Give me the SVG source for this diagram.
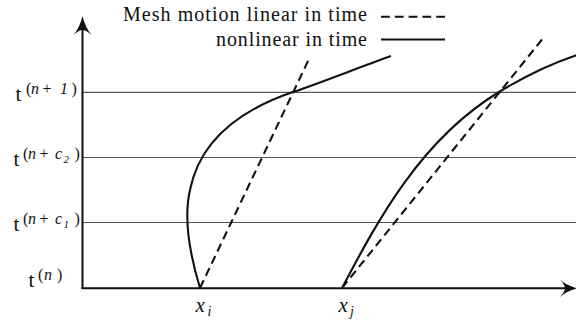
<svg xmlns="http://www.w3.org/2000/svg" width="576" height="324" viewBox="0 0 576 324">
<rect width="576" height="324" fill="#fff"/>
<g id="grid" stroke="#555" stroke-width="1.2" fill="none">
<line x1="83" y1="92.3" x2="576" y2="92.3"/>
<line x1="83" y1="157.5" x2="576" y2="157.5"/>
<line x1="83" y1="222.5" x2="576" y2="222.5"/>
</g>
<g id="axes">
<g stroke="#111" stroke-width="2" fill="none">
<line x1="82.5" y1="289" x2="82.5" y2="30"/>
<line x1="81.5" y1="288.3" x2="566" y2="288.3"/>
</g>
<g fill="#111">
<path d="M82.5,16 Q85,27 91.5,35 Q86,30 82.5,30 Q79,30 73.5,35 Q80,27 82.5,16 Z"/>
<path d="M577.5,288.3 Q566,291 560,297 Q565,291.5 565,288.3 Q565,285 560,279.6 Q566,285.6 577.5,288.3 Z"/>
</g>
</g>
<g id="connectors" stroke="#111" stroke-width="2.1" fill="none">
<g stroke-dasharray="8.5,5">
<line x1="200" y1="288" x2="309" y2="59"/>
<line x1="342" y1="288" x2="544" y2="37"/>
</g>
<path d="M200,288 C190,255 183,220 190,190 C200,140 240,110 293,92 C320,83 360,67 391,56"/>
<path d="M342,288 C377,222 420,140 499,92 C530,73 555,62 580,54"/>
</g>
<g id="legend">
<text font-family="Liberation Serif" font-size="20" fill="#111" x="367" y="21" text-anchor="end" textLength="244" lengthAdjust="spacing">Mesh motion linear in time</text>
<line x1="381" y1="16.7" x2="445" y2="16.7" stroke="#111" stroke-width="2.1" stroke-dasharray="8.8,5"/>
<text font-family="Liberation Serif" font-size="20" fill="#111" x="367" y="45.5" text-anchor="end" textLength="151" lengthAdjust="spacing">nonlinear in time</text>
<line x1="381" y1="39.5" x2="445" y2="39.5" stroke="#111" stroke-width="2.1"/>
</g>
<g id="label-tn1">
<text font-family="Liberation Serif" font-size="21" fill="#111" x="15.5" y="100.5">t</text>
<text font-family="Liberation Serif" font-size="16" fill="#111" y="94"><tspan x="26">(</tspan><tspan x="31" font-style="italic">n</tspan><tspan x="42.5">+</tspan><tspan x="60" font-style="italic">1</tspan><tspan x="71.5">)</tspan></text>
</g>
<g id="label-tnc2">
<text font-family="Liberation Serif" font-size="21" fill="#111" x="13.5" y="165.5">t</text>
<text font-family="Liberation Serif" font-size="16" fill="#111" y="159"><tspan x="23">(</tspan><tspan x="28" font-style="italic">n</tspan><tspan x="39.5">+</tspan><tspan x="55" font-style="italic">c</tspan><tspan x="74.5">)</tspan></text>
<text font-family="Liberation Serif" font-size="11" font-style="italic" fill="#111" x="63.5" y="162.5">2</text>
</g>
<g id="label-tnc1">
<text font-family="Liberation Serif" font-size="21" fill="#111" x="13.5" y="230.5">t</text>
<text font-family="Liberation Serif" font-size="16" fill="#111" y="224"><tspan x="23">(</tspan><tspan x="28" font-style="italic">n</tspan><tspan x="39.5">+</tspan><tspan x="55" font-style="italic">c</tspan><tspan x="74.5">)</tspan></text>
<text font-family="Liberation Serif" font-size="11" font-style="italic" fill="#111" x="63.5" y="227.5">1</text>
</g>
<g id="label-tn">
<text font-family="Liberation Serif" font-size="21" fill="#111" x="28.5" y="287">t</text>
<text font-family="Liberation Serif" font-size="16" fill="#111" y="280"><tspan x="38">(</tspan><tspan x="44" font-style="italic">n</tspan><tspan x="57">)</tspan></text>
</g>
<g id="label-xi">
<text font-family="Liberation Serif" font-size="21" font-style="italic" fill="#111" x="195.5" y="311.5">x</text>
<text font-family="Liberation Serif" font-size="14" font-style="italic" fill="#111" x="207.5" y="316">i</text>
</g>
<g id="label-xj">
<text font-family="Liberation Serif" font-size="21" font-style="italic" fill="#111" x="338.5" y="311.5">x</text>
<text font-family="Liberation Serif" font-size="14" font-style="italic" fill="#111" x="350" y="316">j</text>
</g>
</svg>
